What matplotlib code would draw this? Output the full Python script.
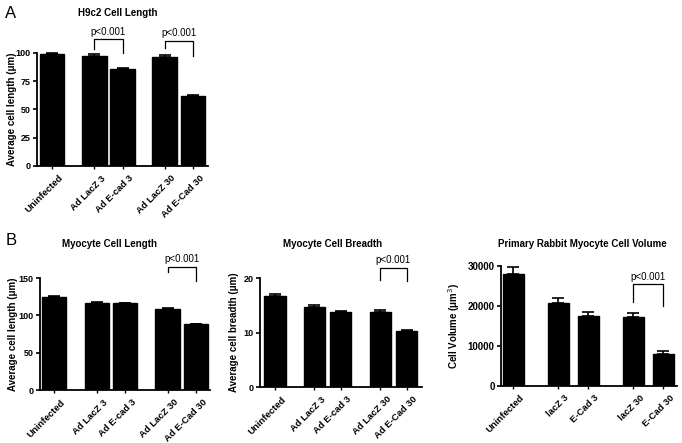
#!/usr/bin/env python3
"""Bar panels: H9c2 and myocyte cell size after Ad E-cad infection."""

import matplotlib
matplotlib.use("Agg")
import matplotlib.pyplot as plt
import numpy as np

plt.rcParams["font.family"] = ["Liberation Sans", "DejaVu Sans"]

POS = [0, 1.5, 2.5, 4, 5]

ad_labels = ["Uninfected", "Ad LacZ 3", "Ad E-cad 3", "Ad LacZ 30", "Ad E-Cad 30"]
vol_labels = ["Uninfected", "lacZ 3", "E-Cad 3", "lacZ 30", "E-Cad 30"]

h9c2_len = [99, 97.5, 86, 96.5, 62]
h9c2_err = [0.6, 1.6, 0.8, 1.5, 0.5]

myo_len = [125, 117, 116, 109, 88]
myo_len_err = [1.2, 1.0, 1.0, 1.0, 1.0]

myo_breadth = [16.7, 14.7, 13.7, 13.8, 10.2]
myo_breadth_err = [0.45, 0.3, 0.3, 0.3, 0.35]

myo_volume = [28000, 20600, 17400, 17100, 7900]
myo_volume_err = [1800, 1400, 1100, 1200, 800]


def bar_panel(fig, rect, labels, vals, errs, ylim, yticks, ylabel, width, xlim,
              label_x, ytick_size=6.5):
    ax = fig.add_axes(rect)
    ax.bar(POS, vals, width=width, color="black", edgecolor="black", zorder=2)
    ax.errorbar(POS, vals, yerr=[np.zeros(len(errs)), errs], fmt="none",
                ecolor="black", elinewidth=1.2, capsize=4, capthick=1.2,
                clip_on=False, zorder=3)
    ax.set_xlim(*xlim)
    ax.set_ylim(*ylim)
    ax.set_yticks(yticks)
    ax.set_xticks(POS)
    ax.set_xticklabels([])
    # rotated category labels, nudged right of the tick like the original
    for p, lab in zip(POS, labels):
        ax.annotate(lab, xy=(p, 0), xycoords=("data", "axes fraction"),
                    xytext=(4.5, -5.5), textcoords="offset points",
                    rotation=45, ha="right", va="top", rotation_mode="anchor",
                    fontsize=6.8, fontweight="bold", annotation_clip=False)
    for lbl in ax.get_yticklabels():
        lbl.set_fontsize(ytick_size)
        lbl.set_fontweight("bold")
    ax.tick_params(axis="x", length=2.5, width=1.0)
    ax.tick_params(axis="y", length=3, width=1.2, pad=1.5)
    ax.set_ylabel(ylabel, fontsize=7, fontweight="bold")
    ax.yaxis.set_label_coords(label_x, 0.5)
    for side in ("top", "right"):
        ax.spines[side].set_visible(False)
    for side in ("left", "bottom"):
        ax.spines[side].set_linewidth(1.3)
    return ax


def bracket(ax, i, j, top, left_y, right_y):
    x1, x2 = POS[i], POS[j]
    ax.plot([x1, x1, x2, x2], [left_y, top, top, right_y], color="black",
            linewidth=0.9, clip_on=False)
    ax.annotate("p<0.001", xy=((x1 + x2) / 2, top), xytext=(0, 2),
                textcoords="offset points", ha="center", va="bottom",
                fontsize=7, annotation_clip=False)


fig = plt.figure(figsize=(6.82, 4.43), dpi=100)

ax_a = bar_panel(fig, [0.0543, 0.6253, 0.2507, 0.2551], ad_labels, h9c2_len, h9c2_err,
                 (0, 100), [0, 25, 50, 75, 100], "Average cell length (\u03bcm)",
                 0.88, (-0.53, 5.53), -0.117)
bracket(ax_a, 1, 2, 112, 103.5, 100)
bracket(ax_a, 3, 4, 111, 104.5, 97)

ax_b1 = bar_panel(fig, [0.0587, 0.1196, 0.2493, 0.2528], ad_labels, myo_len, myo_len_err,
                  (0, 150), [0, 50, 100, 150], "Average cell length (\u03bcm)",
                  0.86, (-0.5, 5.5), -0.129)
bracket(ax_b1, 3, 4, 165, 158, 146)

ax_b2 = bar_panel(fig, [0.3812, 0.1264, 0.2375, 0.2460], ad_labels, myo_breadth,
                  myo_breadth_err, (0, 20), [0, 10, 20], "Average cell breadth (\u03bcm)",
                  0.8, (-0.57, 5.58), -0.13)
bracket(ax_b2, 3, 4, 21.9, 19.6, 19.4)

ax_b3 = bar_panel(fig, [0.7346, 0.1293, 0.2581, 0.2709], vol_labels, myo_volume,
                  myo_volume_err, (0, 30000), [0, 10000, 20000, 30000],
                  "Cell Volume (\u03bcm$^3$)", 0.7, (-0.4, 5.45), -0.22, 7)
bracket(ax_b3, 3, 4, 25350, 21000, 19900)

W, H = 682, 443
fig.text(118 / W, 1 - 13 / H, "H9c2 Cell Length", ha="center", va="center",
         fontsize=7, fontweight="bold")
fig.text(110 / W, 1 - 244 / H, "Myocyte Cell Length", ha="center", va="center",
         fontsize=7, fontweight="bold")
fig.text(333 / W, 1 - 244 / H, "Myocyte Cell Breadth", ha="center", va="center",
         fontsize=7, fontweight="bold")
fig.text(582 / W, 1 - 244 / H, "Primary Rabbit Myocyte Cell Volume", ha="center",
         va="center", fontsize=7, fontweight="bold")
fig.text(11 / W, 1 - 14 / H, "A", ha="center", va="center", fontsize=12)
fig.text(11 / W, 1 - 240 / H, "B", ha="center", va="center", fontsize=12)

fig.savefig("out.png", dpi=100, facecolor="white")
